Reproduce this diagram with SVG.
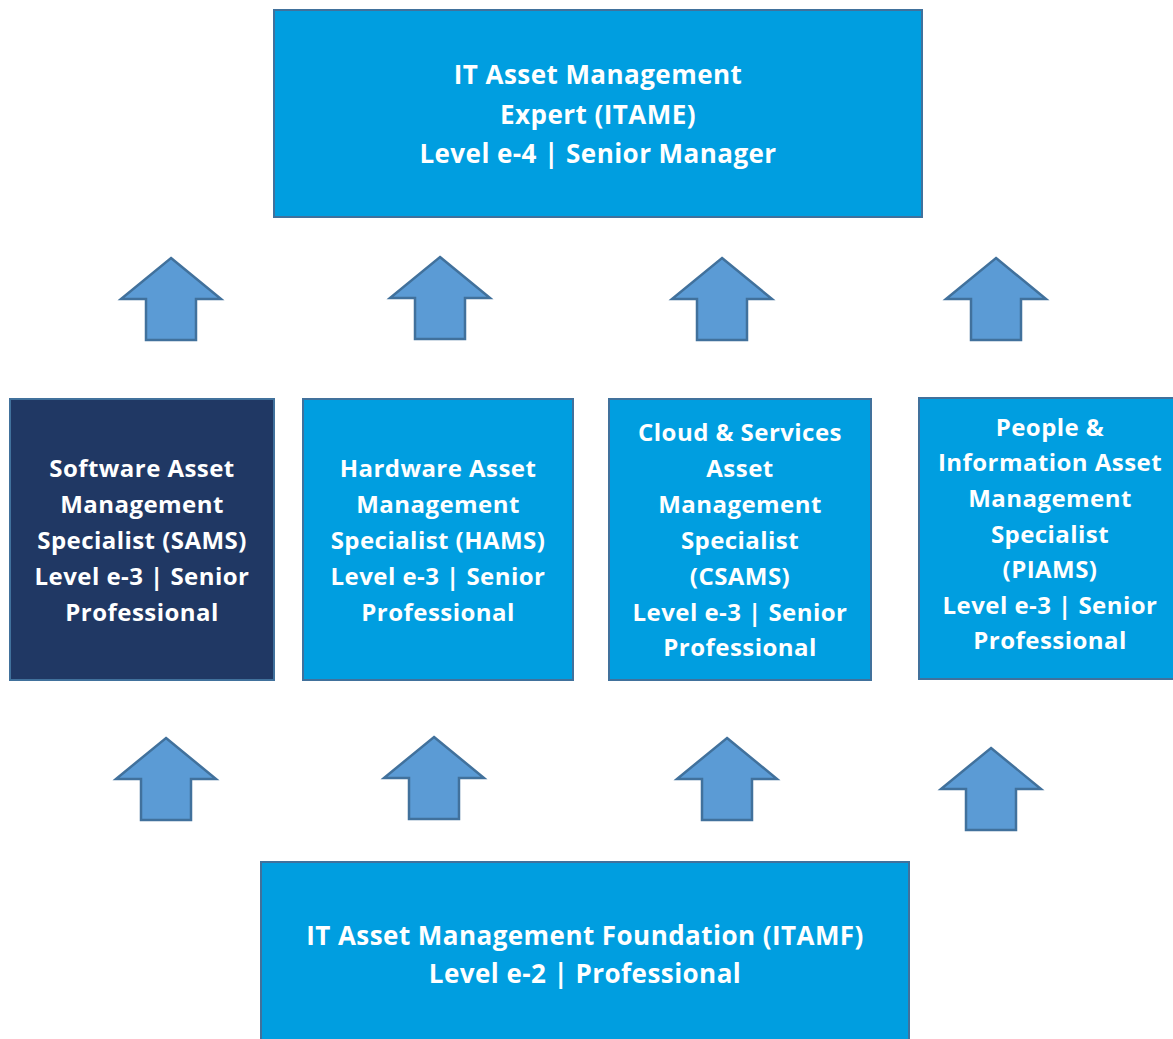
<svg xmlns="http://www.w3.org/2000/svg" width="1173" height="1039" viewBox="0 0 1173 1039">
<defs>
<style>
.box{fill:#009EE0;stroke:#41719C;stroke-width:2}
.dark{fill:#203864;stroke:#41719C;stroke-width:2}
.arr{fill:#5B9BD5;stroke:#41719C;stroke-width:2.5;stroke-linejoin:miter}
text{font-family:"Open Sans",Lato,"Liberation Sans",sans-serif;font-weight:bold;fill:#FFFFFF;text-anchor:middle;letter-spacing:0.45px}
.t26{font-size:26px}
.t24{font-size:24px}
</style>
<path id="up" d="M0,0 L50,41 L25,41 L25,82 L-25,82 L-25,41 L-50,41 Z"/>
</defs>
<rect width="1173" height="1039" fill="#FFFFFF"/>
<g id="connectors">
<use href="#up" class="arr" x="171" y="258"/>
<use href="#up" class="arr" x="440" y="257"/>
<use href="#up" class="arr" x="722" y="258"/>
<use href="#up" class="arr" x="996" y="258"/>
<use href="#up" class="arr" x="166" y="738"/>
<use href="#up" class="arr" x="434" y="737"/>
<use href="#up" class="arr" x="727" y="738"/>
<use href="#up" class="arr" x="991" y="748"/>
</g>
<g id="itame">
<rect class="box" x="274" y="10" width="648" height="207"/>
<text class="t26" x="598" y="84">IT Asset Management</text>
<text class="t26" x="598" y="124">Expert (ITAME)</text>
<text class="t26" x="598" y="163">Level e-4 | Senior Manager</text>
</g>
<g id="sams">
<rect class="dark" x="10" y="399" width="264" height="281"/>
<text class="t24" x="142" y="477">Software Asset</text>
<text class="t24" x="142" y="513">Management</text>
<text class="t24" x="142" y="549">Specialist (SAMS)</text>
<text class="t24" x="142" y="585">Level e-3 | Senior</text>
<text class="t24" x="142" y="621">Professional</text>
</g>
<g id="hams">
<rect class="box" x="303" y="399" width="270" height="281"/>
<text class="t24" x="438" y="477">Hardware Asset</text>
<text class="t24" x="438" y="513">Management</text>
<text class="t24" x="438" y="549">Specialist (HAMS)</text>
<text class="t24" x="438" y="585">Level e-3 | Senior</text>
<text class="t24" x="438" y="621">Professional</text>
</g>
<g id="csams">
<rect class="box" x="609" y="399" width="262" height="281"/>
<text class="t24" x="740" y="441">Cloud &amp; Services</text>
<text class="t24" x="740" y="477">Asset</text>
<text class="t24" x="740" y="513">Management</text>
<text class="t24" x="740" y="549">Specialist</text>
<text class="t24" x="740" y="585">(CSAMS)</text>
<text class="t24" x="740" y="621">Level e-3 | Senior</text>
<text class="t24" x="740" y="656">Professional</text>
</g>
<g id="piams">
<rect class="box" x="919" y="398" width="260" height="281"/>
<text class="t24" x="1050" y="436">People &amp;</text>
<text class="t24" x="1050" y="471">Information Asset</text>
<text class="t24" x="1050" y="507">Management</text>
<text class="t24" x="1050" y="543">Specialist</text>
<text class="t24" x="1050" y="578">(PIAMS)</text>
<text class="t24" x="1050" y="614">Level e-3 | Senior</text>
<text class="t24" x="1050" y="649">Professional</text>
</g>
<g id="itamf">
<rect class="box" x="261" y="862" width="648" height="190"/>
<text class="t26" x="585" y="945">IT Asset Management Foundation (ITAMF)</text>
<text class="t26" x="585" y="983">Level e-2 | Professional</text>
</g>
</svg>
